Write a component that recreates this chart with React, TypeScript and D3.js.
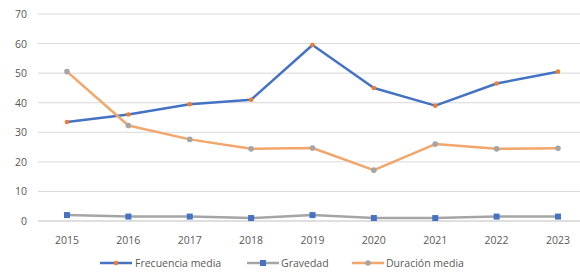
import { useEffect, useRef } from 'react'
import * as d3 from 'd3'

const years = ['2015', '2016', '2017', '2018', '2019', '2020', '2021', '2022', '2023']
const frecuencia = [33.5, 36, 39.5, 41, 59.5, 45, 39, 46.5, 50.5]
const gravedad = [2, 1.5, 1.5, 1, 2, 1, 1, 1.5, 1.5]
const duracion = [50.5, 32.3, 27.6, 24.4, 24.7, 17.2, 26, 24.4, 24.6]
const yTicks = [0, 10, 20, 30, 40, 50, 60, 70]

const W = 580, H = 273
const FONT = "'Open Sans', 'Liberation Sans', sans-serif"

export default function App() {
  const svgRef = useRef<SVGSVGElement>(null)

  useEffect(() => {
    document.body.style.margin = '0'
    const svg = d3.select(svgRef.current)
    svg.selectAll('*').remove()

    const x = d3.scalePoint().domain(years).range([67, 558])
    const y = d3.scaleLinear().domain([0, 70]).range([221, 14])

    // horizontal gridlines + y labels
    svg.append('g').selectAll('line').data(yTicks).join('line')
      .attr('x1', 38).attr('x2', 580)
      .attr('y1', d => y(d)).attr('y2', d => y(d))
      .attr('stroke', d => d === 0 ? '#bfbfbf' : '#d9d9d9').attr('stroke-width', 1)

    svg.append('g').selectAll('text').data(yTicks).join('text')
      .attr('x', 27).attr('y', d => y(d) + 4)
      .attr('text-anchor', 'end').attr('font-size', 10.5).attr('font-family', FONT).attr('fill', '#595959')
      .text(d => d)

    svg.append('g').selectAll('text').data(years).join('text')
      .attr('x', d => x(d)!).attr('y', 244)
      .attr('text-anchor', 'middle').attr('font-size', 10.5).attr('font-family', FONT).attr('fill', '#595959')
      .text(d => d)

    // line colour / marker colour follow the Excel default mix-up in the source
    const series = [
      { name: 'Frecuencia media', vals: frecuencia, line: '#4472c4', mark: '#ed7d31', shape: 'dot' },
      { name: 'Gravedad', vals: gravedad, line: '#a5a5a5', mark: '#4472c4', shape: 'square' },
      { name: 'Duración media', vals: duracion, line: '#f2a66c', mark: '#a5a5a5', shape: 'circle' },
    ]

    const line = d3.line<number>().x((_, i) => x(years[i])!).y(d => y(d))

    for (const s of series) {
      svg.append('path').datum(s.vals)
        .attr('fill', 'none').attr('stroke', s.line).attr('stroke-width', 2.5)
        .attr('stroke-linejoin', 'round').attr('d', line)
    }
    for (const s of series) {
      const g = svg.append('g')
      s.vals.forEach((v, i) => drawMarker(g, s.shape, x(years[i])!, y(v), s.mark))
    }

    // legend
    const legendY = 263
    const legend = [
      { s: series[0], x0: 100, tx: 135 },
      { s: series[1], x0: 247, tx: 281 },
      { s: series[2], x0: 352, tx: 386 },
    ]
    for (const l of legend) {
      const g = svg.append('g')
      g.append('line').attr('x1', l.x0).attr('x2', l.x0 + 32).attr('y1', legendY).attr('y2', legendY)
        .attr('stroke', l.s.line).attr('stroke-width', 2.5)
      drawMarker(g, l.s.shape, l.x0 + 16, legendY, l.s.mark)
      g.append('text').attr('x', l.tx).attr('y', legendY + 4)
        .attr('font-size', 10.5).attr('font-family', FONT).attr('fill', '#595959').text(l.s.name)
    }
  }, [])

  return (
    <div style={{ position: 'absolute', left: 0, top: 0 }}>
      <svg ref={svgRef} width={W} height={H} style={{ display: 'block', background: '#fff' }} />
    </div>
  )
}

function drawMarker(g: d3.Selection<SVGGElement, unknown, null, undefined>, shape: string, cx: number, cy: number, col: string) {
  if (shape === 'square') {
    g.append('rect').attr('x', cx - 3).attr('y', cy - 3).attr('width', 6).attr('height', 6).attr('fill', col)
  } else if (shape === 'dot') {
    g.append('circle').attr('cx', cx).attr('cy', cy).attr('r', 2.3).attr('fill', col)
  } else {
    g.append('circle').attr('cx', cx).attr('cy', cy).attr('r', 2.8).attr('fill', col)
  }
}
